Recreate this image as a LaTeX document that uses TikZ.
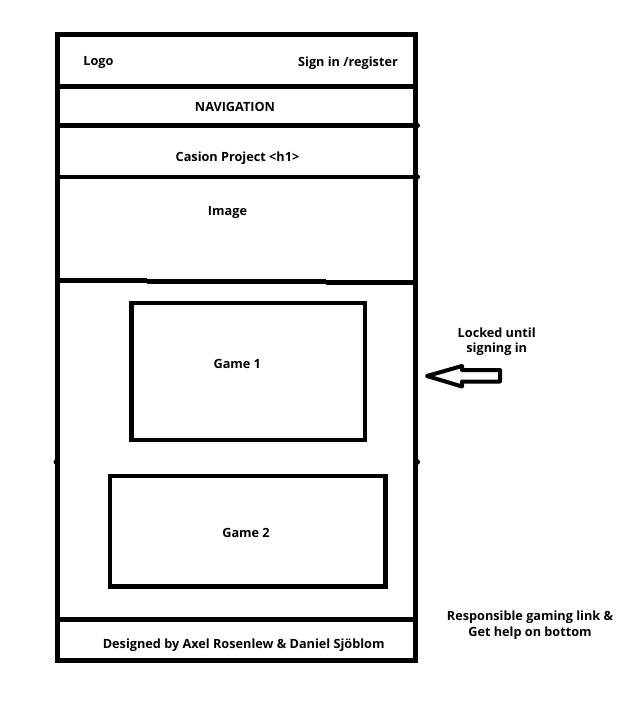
\documentclass[tikz,border=0pt]{standalone}
\usepackage{fontspec}
\setmainfont{Open Sans}
\begin{document}
\begin{tikzpicture}[x=1pt,y=-1pt,
  frame/.style={line width=5pt},
  rule/.style={line width=4.8pt},
  gamebox/.style={draw, line width=4.6pt, inner sep=0pt},
  lbl/.style={font=\fontsize{12.7}{16.5}\selectfont\bfseries, inner sep=0pt, anchor=base}]
\useasboundingbox (0,0) rectangle (632,701);

% page frame
\draw[frame] (57.5,35) rectangle (415,660);

% section dividers
\draw[rule] (57.5,86.5) -- (415,86.5);
\draw[rule] (57.5,125.5) -- (415,125.5);
\draw[rule] (57.5,177) -- (415,177);
\draw[rule] (57.5,280.5) -- (147,280.5);
\draw[rule] (147,281.5) -- (326,281.5);
\draw[rule] (326,282.5) -- (415,282.5);
\draw[rule] (57.5,619.5) -- (415,619.5);

% small joints on the frame
\fill (417.5,125.5) circle (2.5pt);
\fill (417.5,177) circle (2.5pt);
\fill (56.5,462) circle (3pt);
\fill (417,462) circle (3pt);

% game boxes
\draw[gamebox] (131.5,303) rectangle (365,440);
\draw[gamebox] (110,476) rectangle (385.5,586.5);

% labels
\node[lbl] (logo) at (98.5,65.7) {Logo};
\node[lbl] (sign) at (348,66.7) {Sign in /register};
\node[lbl] (nav) at (235,111) {NAVIGATION};
\node[lbl] (h1) at (237.5,161.3) {Casion Project <h1>};
\node[lbl] (img) at (227.5,215) {Image};
\node[lbl] (g1) at (237.3,368.3) {Game 1};
\node[lbl] (g2) at (246,537.3) {Game 2};
\node[lbl] (foot) at (243.7,648.3) {Designed by Axel Rosenlew \& Daniel Sjöblom};
\node[lbl] (lockA) at (496.7,337.3) {Locked until};
\node[lbl] (lockB) at (496.7,352.5) {signing in};
\node[lbl] (respA) at (530,620) {Responsible gaming link \&};
\node[lbl] (respB) at (530,636.7) {Get help on bottom};

% outline arrow pointing at the games
\draw[line width=4pt, line join=round]
  (427,376) -- (462,366) -- (462,370) -- (500,370) -- (500,381.5)
  -- (462,381.5) -- (462,386.5) -- cycle;
\end{tikzpicture}
\end{document}
